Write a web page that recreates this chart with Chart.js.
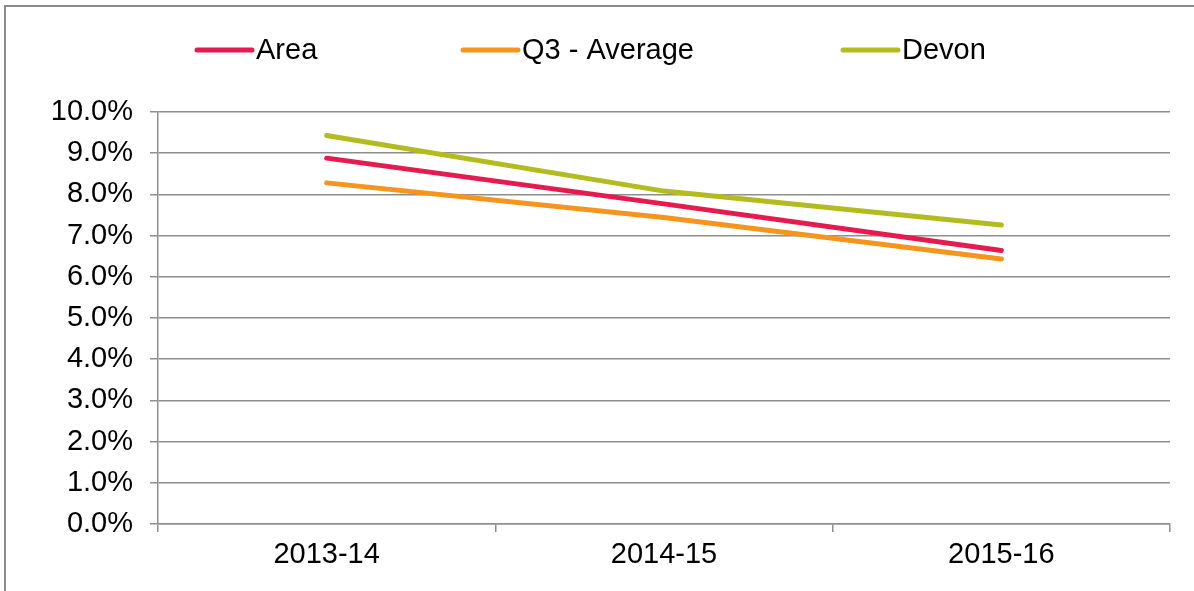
<!DOCTYPE html>
<html>
<head>
<meta charset="utf-8">
<script src="https://cdn.jsdelivr.net/npm/chart.js@4"></script>
<style>
  html, body { margin: 0; padding: 0; background: #fff; }
  #wrap { position: relative; width: 1194px; height: 591px; }
</style>
</head>
<body>
<div id="wrap"><canvas id="chart" width="1194" height="591"></canvas></div>
<script>
const categories = ['2013-14', '2014-15', '2015-16'];
const areaValues = [8.88, 7.77, 6.64];
const q3Values = [8.28, 7.44, 6.43];
const devonValues = [9.43, 8.08, 7.26];
const seriesNames = ['Area', 'Q3 - Average', 'Devon'];
const seriesColors = ['#e8194f', '#f7941d', '#b3bc1f'];

const FONT = 'Liberation Sans, Arial, sans-serif';
const FONT_SIZE = 29;
const GRID = '#8e8e8e';

// legend entries sit at fixed x positions like the original
const legendX = [197, 463, 843];

const frameAndLegend = {
  id: 'frameAndLegend',
  beforeDraw(chart) {
    const ctx = chart.ctx;
    ctx.save();
    ctx.fillStyle = '#fff';
    ctx.fillRect(0, 0, chart.width, chart.height);
    ctx.strokeStyle = '#8a8a8a';
    ctx.lineWidth = 2;
    ctx.strokeRect(5, 6, chart.width + 20, chart.height + 20);
    ctx.restore();
  },
  afterDraw(chart) {
    const ctx = chart.ctx;
    ctx.save();
    chart.data.datasets.forEach((ds, i) => {
      const x = legendX[i];
      const y = 50;
      ctx.strokeStyle = ds.borderColor;
      ctx.lineWidth = 5;
      ctx.lineCap = 'round';
      ctx.beginPath();
      ctx.moveTo(x, y);
      ctx.lineTo(x + 55, y);
      ctx.stroke();
      ctx.fillStyle = '#000';
      ctx.font = `${FONT_SIZE}px ${FONT}`;
      ctx.textBaseline = 'middle';
      ctx.textAlign = 'left';
      ctx.fillText(ds.label, x + 59, y + 1);
    });
    ctx.restore();
  }
};

const datasetValues = [areaValues, q3Values, devonValues];

new Chart(document.getElementById('chart'), {
  type: 'line',
  data: {
    labels: categories,
    datasets: datasetValues.map((values, i) => ({
      label: seriesNames[i],
      data: values,
      borderColor: seriesColors[i],
      backgroundColor: seriesColors[i],
      borderWidth: 5,
      borderCapStyle: 'round',
      pointRadius: 0,
      tension: 0,
      fill: false
    }))
  },
  options: {
    responsive: false,
    animation: false,
    layout: { padding: { top: 112, left: 0, right: 24, bottom: 0 } },
    plugins: {
      legend: { display: false },
      tooltip: { enabled: false }
    },
    scales: {
      x: {
        offset: true,
        grid: {
          offset: true,
          drawOnChartArea: false,
          drawTicks: true,
          tickLength: 8,
          color: GRID,
          lineWidth: 1.5
        },
        border: { color: GRID, width: 1.5 },
        ticks: {
          color: '#000',
          font: { family: FONT, size: FONT_SIZE },
          padding: 6,
          maxRotation: 0
        },
        afterFit(scale) { scale.height = 67; }
      },
      y: {
        min: 0,
        max: 10,
        ticks: {
          stepSize: 1,
          color: '#000',
          font: { family: FONT, size: FONT_SIZE },
          padding: 17,
          callback: (v) => v.toFixed(1) + '%'
        },
        grid: {
          color: GRID,
          lineWidth: 1.5,
          tickLength: 8
        },
        border: { color: GRID, width: 1.5 },
        afterFit(scale) { scale.width = 158; }
      }
    }
  },
  plugins: [frameAndLegend]
});
</script>
</body>
</html>
